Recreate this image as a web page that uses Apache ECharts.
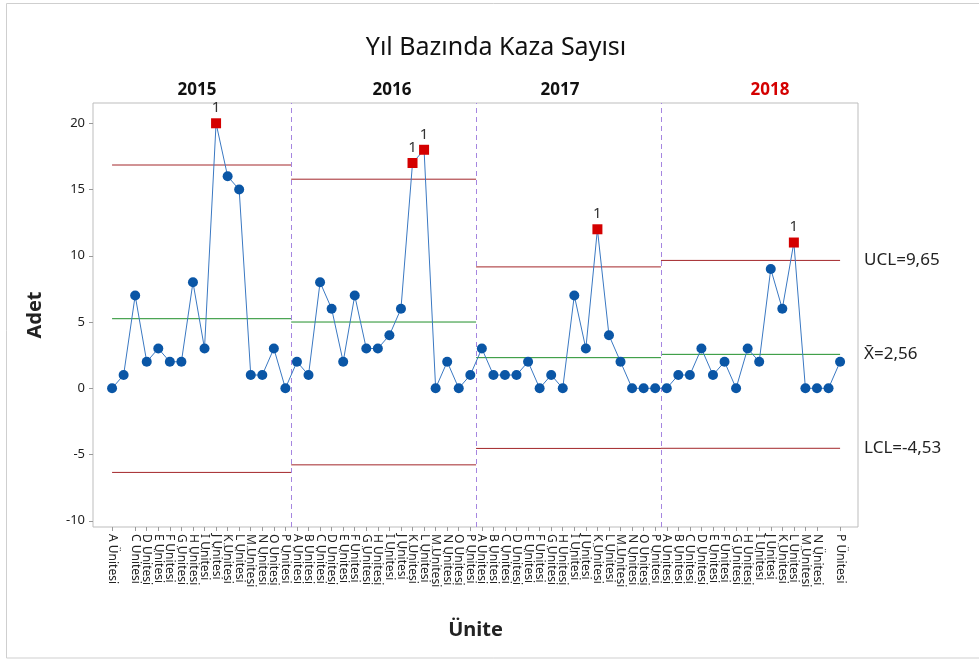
<!DOCTYPE html>
<html>
<head>
<meta charset="utf-8">
<script src="https://cdn.jsdelivr.net/npm/echarts@6/dist/echarts.min.js"></script>
<style>
	html, body { margin: 0; padding: 0; background: #fff; }
	#chart { width: 979px; height: 659px; }
</style>
</head>
<body>
<div id="chart"></div>
<script>
	// birimler ve yıllar
	let units = ['A', 'B', 'C', 'D', 'E', 'F', 'G', 'H', 'I', 'J', 'K', 'L', 'M', 'N', 'O', 'P'];
	let years = ['2015', '2016', '2017', '2018'];

	let counts2015 = [0, 1, 7, 2, 3, 2, 2, 8, 3, 20, 16, 15, 1, 1, 3, 0];
	let counts2016 = [2, 1, 8, 6, 2, 7, 3, 3, 4, 6, 17, 18, 0, 2, 0, 1];
	let counts2017 = [3, 1, 1, 1, 2, 0, 1, 0, 7, 3, 12, 4, 2, 0, 0, 0];
	let counts2018 = [0, 1, 1, 3, 1, 2, 0, 3, 2, 9, 6, 11, 0, 0, 0, 2];

	// kontrol limitleri (her yıl için)
	let uclList = [16.85, 15.78, 9.16, 9.65];
	let meanList = [5.25, 5.00, 2.31, 2.56];
	let lclList = [-6.35, -5.78, -4.54, -4.53];

	let yTicks = [-10, -5, 0, 5, 10, 15, 20];

	let font = 'Noto Sans';
	let yearData = [counts2015, counts2016, counts2017, counts2018];
	let n = units.length;

	let points = [];
	let xValues = [];
	yearData.forEach((list, p) => {
		list.forEach((v, i) => {
			let x = p * n + i + 1;
			xValues.push(x);
			if (v > uclList[p] || v < lclList[p]) {
				points.push({
					value: [x, v],
					symbol: 'rect',
					symbolSize: 10,
					itemStyle: { color: '#d40000' },
					label: {
						show: true,
						position: 'top',
						distance: 3,
						formatter: '1',
						color: '#333',
						fontSize: 15,
						fontFamily: font
					}
				});
			} else {
				points.push({ value: [x, v] });
			}
		});
	});

	let series = [{
		type: 'line',
		data: points,
		symbol: 'circle',
		symbolSize: 10,
		itemStyle: { color: '#0a56a6' },
		lineStyle: { color: '#3a78c2', width: 1 },
		z: 5,
		markLine: {
			silent: true,
			symbol: 'none',
			label: { show: false },
			lineStyle: { color: '#a585e0', type: [5, 4], width: 1 },
			data: years.slice(1).map((y, p) => ({ xAxis: (p + 1) * n + 0.5 }))
		}
	}];

	let limitNames = [
		{ list: uclList, color: '#a3262a', label: 'UCL=9,65' },
		{ list: meanList, color: '#1f8f2a', label: 'X\u0304=2,56' },
		{ list: lclList, color: '#a3262a', label: 'LCL=-4,53' }
	];
	years.forEach((y, p) => {
		let start = p == 0 ? 1 : p * n + 0.5;
		let end = p == years.length - 1 ? years.length * n : (p + 1) * n + 0.5;
		limitNames.forEach(item => {
			let s = {
				type: 'line',
				silent: true,
				symbol: 'none',
				data: [[start, item.list[p]], [end, item.list[p]]],
				lineStyle: { color: item.color, width: 1 },
				z: 2
			};
			if (p == years.length - 1) {
				s.endLabel = {
					show: true,
					formatter: item.label,
					distance: 24,
					color: '#222',
					fontSize: 17,
					fontFamily: font
				};
			}
			series.push(s);
		});
	});

	let yearX = [197, 392, 560, 770];
	let graphics = [{
		type: 'rect',
		shape: { x: 6.5, y: 3.5, width: 1000, height: 654.5 },
		style: { fill: 'none', stroke: '#cfcfcf', lineWidth: 1 },
		silent: true
	}, {
		type: 'text',
		x: 496,
		y: 48,
		style: {
			text: 'Yıl Bazında Kaza Sayısı',
			fill: '#111',
			font: '25px "' + font + '"',
			textAlign: 'center',
			textVerticalAlign: 'middle'
		}
	}];
	years.forEach((y, p) => {
		graphics.push({
			type: 'text',
			x: yearX[p],
			y: 90,
			style: {
				text: y,
				fill: p == years.length - 1 ? '#d40000' : '#111',
				font: 'bold 17px "' + font + '"',
				textAlign: 'center',
				textVerticalAlign: 'middle'
			}
		});
	});

	let option = {
		animation: false,
		grid: {
			show: true,
			left: 93,
			right: 121,
			top: 103,
			bottom: 132,
			borderColor: '#bdbdbd',
			borderWidth: 1
		},
		xAxis: {
			type: 'value',
			min: -0.65,
			max: 65.55,
			name: 'Ünite',
			nameLocation: 'middle',
			nameGap: 93,
			nameTextStyle: { color: '#222', fontSize: 20, fontWeight: 'bold', fontFamily: font },
			splitLine: { show: false },
			axisLine: { show: false, onZero: false },
			axisTick: {
				show: true,
				length: 4,
				customValues: xValues,
				lineStyle: { color: '#999' }
			},
			axisLabel: {
				show: true,
				rotate: -90,
				customValues: xValues,
				hideOverlap: false,
				showMinLabel: true,
				showMaxLabel: true,
				color: '#222',
				fontSize: 12,
				fontFamily: font,
				margin: 7,
				formatter: function (v) {
					return units[(Math.round(v) - 1) % n] + ' Ünitesi';
				}
			}
		},
		yAxis: {
			type: 'value',
			min: -10.47,
			max: 21.53,
			name: 'Adet',
			nameLocation: 'middle',
			nameGap: 48,
			nameTextStyle: { color: '#222', fontSize: 20, fontWeight: 'bold', fontFamily: font },
			splitLine: { show: false },
			axisLine: { show: false, onZero: false },
			axisTick: {
				show: true,
				length: 4,
				customValues: yTicks,
				lineStyle: { color: '#999' }
			},
			axisLabel: {
				show: true,
				customValues: yTicks,
				color: '#222',
				fontSize: 13,
				fontFamily: font,
				margin: 8
			}
		},
		graphic: graphics,
		series: series
	};

	let chart = echarts.init(document.getElementById('chart'));
	chart.setOption(option);
	window.addEventListener('resize', function () {
		chart.resize();
	});
</script>
</body>
</html>
